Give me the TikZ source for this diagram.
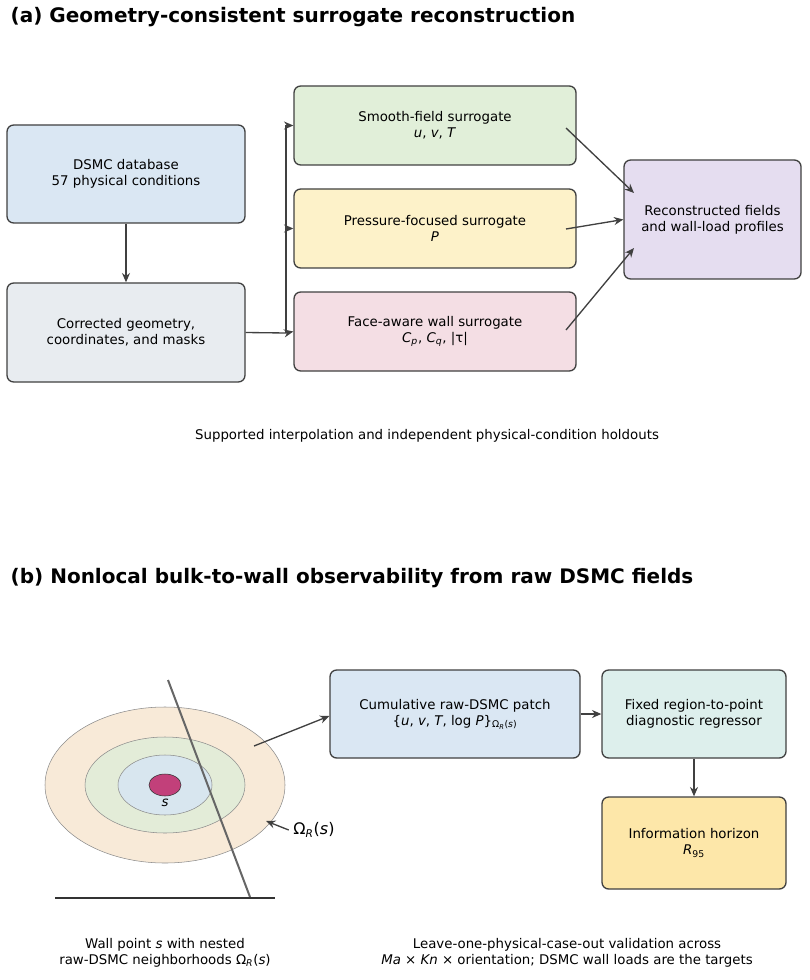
\documentclass[tikz,border=0pt]{standalone}
\usepackage{fontspec}
\setmainfont{DejaVu Sans}
\usetikzlibrary{arrows.meta}
\definecolor{cblue}{HTML}{DAE7F3}
\definecolor{cgray}{HTML}{E8ECF0}
\definecolor{cgreen}{HTML}{E1EFD9}
\definecolor{cyellow}{HTML}{FDF2C9}
\definecolor{cpink}{HTML}{F4DEE4}
\definecolor{cpurple}{HTML}{E5DDF0}
\definecolor{cteal}{HTML}{DDEFEC}
\definecolor{cgold}{HTML}{FDE7A9}
\definecolor{ring1}{HTML}{F8EAD8}
\definecolor{ring2}{HTML}{E3ECD8}
\definecolor{ring3}{HTML}{D8E6EF}
\definecolor{dotc}{HTML}{C2407A}
\newcommand{\vi}[1]{\textit{#1}}
\begin{document}
\begin{tikzpicture}[x=0.75pt,y=-0.75pt,
  box/.style={draw=black!75,line width=1pt,rounded corners=5pt,align=center,font=\fontsize{10}{12}\selectfont,inner sep=0pt},
  arr/.style={-{Stealth[length=7pt,width=6pt]},line width=1pt,black!75},
  ttl/.style={anchor=west,font=\fontsize{15}{18}\selectfont\bfseries},
  captext/.style={align=center,font=\fontsize{10}{12}\selectfont}]
\useasboundingbox (0,0) rectangle (809,980);
\node[ttl] (ta) at (6,17) {(a) Geometry-consistent surrogate reconstruction};
\node[box,fill=cblue,minimum width=238*0.75pt,minimum height=98*0.75pt] (db) at (126,174) {DSMC database\\57 physical conditions};
\node[box,fill=cgray,minimum width=238*0.75pt,minimum height=99*0.75pt] (cg) at (126,332.5) {Corrected geometry,\\coordinates, and masks};
\node[box,fill=cgreen,minimum width=282*0.75pt,minimum height=79*0.75pt] (sf) at (435,125.5) {Smooth-field surrogate\\\vi{u}, \vi{v}, \vi{T}};
\node[box,fill=cyellow,minimum width=282*0.75pt,minimum height=79*0.75pt] (pf) at (435,228.5) {Pressure-focused surrogate\\\vi{P}};
\node[box,fill=cpink,minimum width=282*0.75pt,minimum height=79*0.75pt] (fa) at (435,331.5) {Face-aware wall surrogate\\\vi{C}\textsubscript{\vi{p}}, \vi{C}\textsubscript{\vi{q}}, |τ|};
\node[box,fill=cpurple,minimum width=177*0.75pt,minimum height=119*0.75pt] (rf) at (712.5,219.5) {Reconstructed fields\\and wall-load profiles};
\draw[arr] (db) -- (cg);
\coordinate (j) at (286,333);
\draw[line width=1pt,black!75] (cg.east) -- (j);
\draw[line width=1pt,black!75] (286,125.5) -- (j);
\draw[arr] (286,125.5) -- (sf.west);
\draw[arr] (286,228.5) -- (pf.west);
\draw[arr] (j) -- (fa.west);
\draw[arr] (566,128) -- (634,193);
\draw[arr] (566,229) -- (rf.west);
\draw[arr] (566,330) -- (634,248);
\node[captext] (c1) at (427,436) {Supported interpolation and independent physical-condition holdouts};
\node[ttl] (tb) at (6,578) {(b) Nonlocal bulk-to-wall observability from raw DSMC fields};
\draw[black!45,fill=ring1] (165,785) ellipse [x radius=120,y radius=78];
\draw[black!45,fill=ring2] (165,785) ellipse [x radius=80,y radius=48];
\draw[black!45,fill=ring3] (165,785) ellipse [x radius=47,y radius=30];
\draw[black!80,fill=dotc] (165,785) ellipse [x radius=16,y radius=11];
\node[font=\fontsize{10}{12}\selectfont] (s) at (165,803) {\vi{s}};
\draw[black!60,line width=1.5pt] (168,680) -- (250,897);
\draw[black!80,line width=1pt] (55,898) -- (275,898);
\node[font=\fontsize{12}{14}\selectfont] (om) at (314,830) {Ω\textsubscript{\vi{R}}(\vi{s})};
\draw[arr] (om.west) -- (266,821);
\node[box,fill=cblue,minimum width=250*0.75pt,minimum height=88*0.75pt] (cp) at (455,714) {Cumulative raw-DSMC patch\\\{\vi{u}, \vi{v}, \vi{T}, log \vi{P}\}\textsubscript{Ω\textsubscript{\vi{R}}(\vi{s})}};
\node[box,fill=cteal,minimum width=184*0.75pt,minimum height=88*0.75pt] (fr) at (694,714) {Fixed region-to-point\\diagnostic regressor};
\node[box,fill=cgold,minimum width=184*0.75pt,minimum height=92*0.75pt] (ih) at (694,843) {Information horizon\\\vi{R}\textsubscript{95}};
\draw[arr] (254,746) -- (cp.west |- 0,716);
\draw[arr] (cp) -- (fr);
\draw[arr] (fr) -- (ih);
\node[captext] (c2) at (165,953) {Wall point \vi{s} with nested\\raw-DSMC neighborhoods Ω\textsubscript{\vi{R}}(\vi{s})};
\node[captext] (c3) at (567,953) {Leave-one-physical-case-out validation across\\\vi{Ma} × \vi{Kn} × orientation; DSMC wall loads are the targets};
\end{tikzpicture}
\end{document}
